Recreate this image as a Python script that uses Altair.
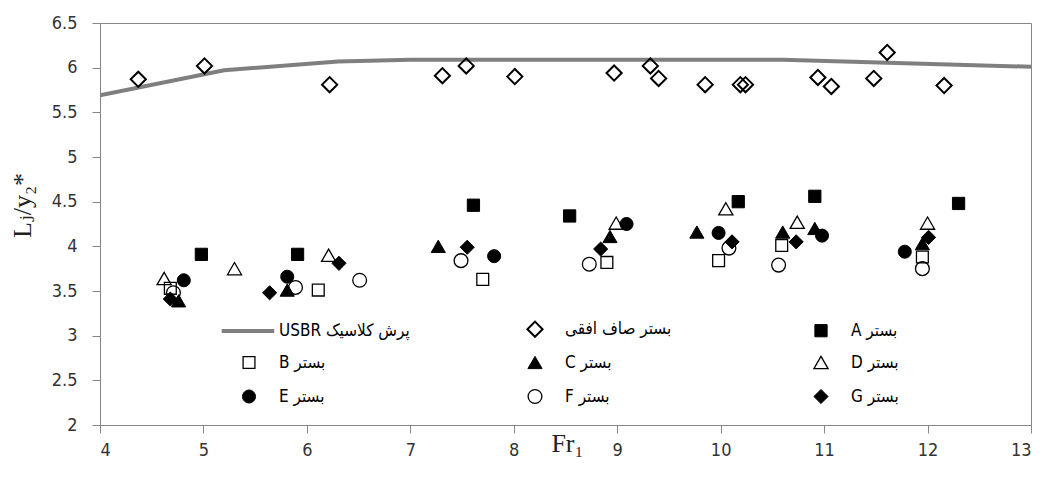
import altair as alt
import pandas as pd

# ---------------- data ----------------
LRM = "\u200e"
series_names = [LRM + "USBR پرش کلاسیک", "بستر صاف افقی", LRM + "A بستر", LRM + "B بستر",
                LRM + "C بستر", LRM + "D بستر", LRM + "E بستر", LRM + "F بستر", LRM + "G بستر"]

usbr_x = [4.0, 5.2, 6.3, 7.0, 10.6, 13.0]
usbr_y = [5.69, 5.97, 6.07, 6.09, 6.09, 6.01]

flat_x = [4.37, 5.01, 6.22, 7.31, 7.54, 8.01, 8.97, 9.32, 9.40, 9.85, 10.19, 10.24,
          10.94, 11.07, 11.48, 11.61, 12.16]
flat_y = [5.87, 6.02, 5.81, 5.91, 6.02, 5.90, 5.94, 6.02, 5.88, 5.81, 5.81, 5.81,
          5.89, 5.79, 5.88, 6.17, 5.80]

A_x = [4.98, 5.91, 7.61, 8.54, 10.17, 10.91, 12.30]
A_y = [3.91, 3.91, 4.46, 4.34, 4.50, 4.56, 4.48]
B_x = [4.68, 6.11, 7.70, 8.90, 9.98, 10.59, 11.95]
B_y = [3.53, 3.51, 3.63, 3.82, 3.84, 4.01, 3.88]
C_x = [4.76, 5.81, 7.27, 8.93, 9.77, 10.60, 10.91, 11.95]
C_y = [3.39, 3.51, 4.00, 4.11, 4.16, 4.16, 4.20, 4.03]
D_x = [4.62, 5.30, 6.21, 8.99, 10.05, 10.74, 12.00]
D_y = [3.64, 3.75, 3.90, 4.26, 4.42, 4.27, 4.26]
E_x = [4.81, 5.81, 7.81, 9.09, 9.98, 10.98, 11.78]
E_y = [3.62, 3.66, 3.89, 4.25, 4.15, 4.12, 3.94]
F_x = [4.71, 5.89, 6.51, 7.49, 8.73, 10.08, 10.56, 11.95]
F_y = [3.48, 3.54, 3.62, 3.84, 3.80, 3.98, 3.79, 3.75]
G_x = [4.68, 5.64, 6.31, 7.55, 8.84, 10.11, 10.73, 12.01]
G_y = [3.41, 3.48, 3.81, 3.99, 3.97, 4.05, 4.05, 4.10]

x_ticks = [4, 5, 6, 7, 8, 9, 10, 11, 12, 13]
y_ticks = [2, 2.5, 3, 3.5, 4, 4.5, 5, 5.5, 6, 6.5]

# ---------------- tables ----------------
line_df = pd.DataFrame({"Fr": usbr_x, "L": usbr_y, "series": series_names[0]})
groups = [(flat_x, flat_y), (A_x, A_y), (B_x, B_y), (C_x, C_y), (D_x, D_y),
          (E_x, E_y), (F_x, F_y), (G_x, G_y)]
pts_df = pd.concat(
    [pd.DataFrame({"Fr": gx, "L": gy, "series": series_names[i + 1], "order": i})
     for i, (gx, gy) in enumerate(groups)],
    ignore_index=True,
)

# ---------------- styles ----------------
# legend symbol for the USBR curve: a horizontal stroke (custom path, unit-scaled)
shape_range = ["M-3.9,0L3.6,0", "diamond", "square", "square", "triangle-up", "triangle-up",
               "circle", "circle", "diamond"]
fill_range = ["transparent", "transparent", "black", "transparent", "black",
              "transparent", "black", "transparent", "black"]
stroke_range = ["#7f7f7f"] + ["black"] * 8
size_range = [196, 230, 150, 140, 200, 200, 170, 190, 200]
sw_range = [4, 2, 1, 1.3, 1, 1.3, 1, 1.3, 1]

legend = alt.Legend(
    title=None, orient="none", legendX=140, legendY=297, columns=3,
    direction="horizontal",
    gridAlign="all", columnPadding=113, rowPadding=12, labelOffset=21,
    labelFont="Liberation Sans Narrow, DejaVu Sans Condensed, DejaVu Sans",
    labelFontSize=17, labelColor="#000000", labelLimit=300,
)

def sc(rng):
    return alt.Scale(type="ordinal", domain=series_names, range=rng)

x_enc = alt.X("Fr:Q", scale=alt.Scale(domain=[4, 13], nice=False, zero=False),
              axis=alt.Axis(values=x_ticks, title="Fr₁", format="d",
                            titleX=467, titleY=26, titleAlign="center",
                            titleBaseline="alphabetic", titleFont="Liberation Serif",
                            titleFontSize=26, titleFontWeight="normal",
                            titleColor="#222222"))
y_enc = alt.Y("L:Q", scale=alt.Scale(domain=[2, 6.5], nice=False, zero=False),
              axis=alt.Axis(values=y_ticks, title="Lⱼ/y₂*", format=".1~f",
                            titleX=-70, titleY=182, titleAlign="center",
                            titleAngle=270, titleBaseline="alphabetic",
                            titleFont="Liberation Serif, DejaVu Serif",
                            titleFontSize=26, titleFontWeight="normal",
                            titleColor="#222222", labelPadding=15))

line = alt.Chart(line_df).mark_line(clip=True).encode(
    x=x_enc, y=y_enc,
    stroke=alt.Stroke("series:N", scale=sc(stroke_range), legend=legend),
    strokeWidth=alt.StrokeWidth("series:N", scale=sc(sw_range), legend=legend),
)

points = alt.Chart(pts_df).mark_point(opacity=1).encode(
    x=alt.X("Fr:Q"), y=alt.Y("L:Q"),
    shape=alt.Shape("series:N", scale=sc(shape_range), legend=legend),
    fill=alt.Fill("series:N", scale=sc(fill_range), legend=legend),
    stroke=alt.Stroke("series:N", scale=sc(stroke_range), legend=legend),
    size=alt.Size("series:N", scale=sc(size_range), legend=legend),
    strokeWidth=alt.StrokeWidth("series:N", scale=sc(sw_range), legend=legend),
    order=alt.Order("order:Q"),
)

chart = alt.layer(line, points).properties(
    width=931, height=402,
    padding={"left": 100, "top": 23, "right": 14, "bottom": 52},
    autosize=alt.AutoSizeParams(type="none"),
    background="white",
).configure_view(
    stroke="#868686", strokeWidth=1,
).configure_axis(
    grid=False, domainColor="#868686", tickColor="#868686", tickSize=8,
    labelFont="Liberation Sans Narrow, DejaVu Sans Condensed, sans-serif",
    labelFontSize=18, labelColor="#333333", labelPadding=8,
)

chart.save("out.html", embed_options={"renderer": "svg", "actions": False})
